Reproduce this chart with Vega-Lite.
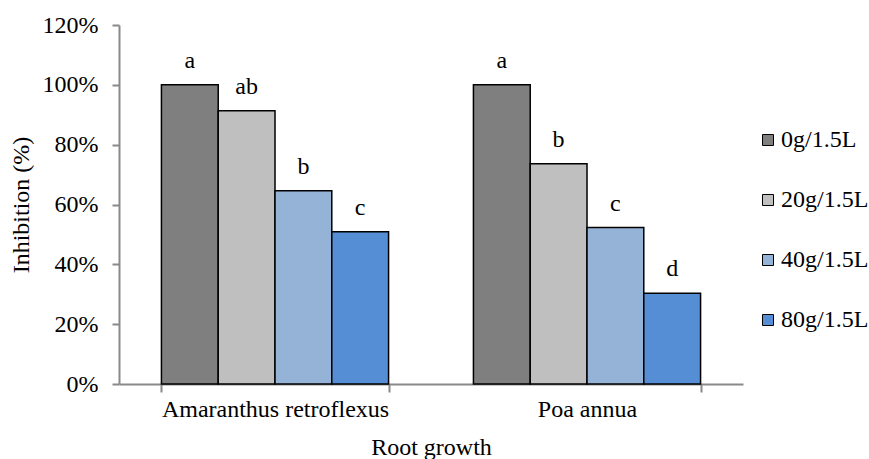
{
  "$schema": "https://vega.github.io/schema/vega-lite/v6.json",
  "width": 624,
  "height": 359,
  "autosize": {"type": "none"},
  "padding": {"left": 119, "top": 25, "right": 126, "bottom": 75},
  "background": "white",
  "config": {
    "font": "Liberation Serif",
    "view": {"stroke": null},
    "axis": {"labelFont": "Liberation Serif", "titleFont": "Liberation Serif"},
    "legend": {"labelFont": "Liberation Serif"}
  },
  "data": {
    "values": [
      {"species": "Amaranthus retroflexus", "conc": "0g/1.5L", "value": 1.0, "letter": "a"},
      {"species": "Amaranthus retroflexus", "conc": "20g/1.5L", "value": 0.913, "letter": "ab"},
      {"species": "Amaranthus retroflexus", "conc": "40g/1.5L", "value": 0.646, "letter": "b"},
      {"species": "Amaranthus retroflexus", "conc": "80g/1.5L", "value": 0.509, "letter": "c"},
      {"species": "Poa annua", "conc": "0g/1.5L", "value": 1.0, "letter": "a"},
      {"species": "Poa annua", "conc": "20g/1.5L", "value": 0.736, "letter": "b"},
      {"species": "Poa annua", "conc": "40g/1.5L", "value": 0.523, "letter": "c"},
      {"species": "Poa annua", "conc": "80g/1.5L", "value": 0.303, "letter": "d"}
    ]
  },
  "encoding": {
    "x": {
      "field": "species",
      "type": "nominal",
      "sort": ["Amaranthus retroflexus", "Poa annua"],
      "scale": {"paddingInner": 0.272, "paddingOuter": 0.136},
      "axis": {
        "title": "Root growth",
        "labelAngle": 0,
        "labelLimit": 400,
        "tickBand": "extent",
        "domainColor": "#898989",
        "tickColor": "#898989",
        "domainWidth": 2,
        "tickWidth": 2,
        "tickSize": 8,
        "labelFontSize": 24,
        "labelColor": "black",
        "labelPadding": 5,
        "titleFontSize": 24,
        "titleFontWeight": "normal",
        "titleColor": "black",
        "titlePadding": 14
      }
    },
    "xOffset": {
      "field": "conc",
      "type": "nominal",
      "sort": ["0g/1.5L", "20g/1.5L", "40g/1.5L", "80g/1.5L"],
      "scale": {"paddingInner": 0, "paddingOuter": 0}
    },
    "y": {
      "field": "value",
      "type": "quantitative",
      "scale": {"domain": [0, 1.2], "nice": false},
      "axis": {
        "title": "Inhibition (%)",
        "format": ".0%",
        "values": [0, 0.2, 0.4, 0.6, 0.8, 1.0, 1.2],
        "grid": false,
        "domainColor": "#898989",
        "tickColor": "#898989",
        "domainWidth": 2,
        "tickWidth": 2,
        "tickSize": 7,
        "labelFontSize": 24,
        "labelColor": "black",
        "labelPadding": 14,
        "titleFontSize": 24,
        "titleFontWeight": "normal",
        "titleColor": "black",
        "titlePadding": 9
      }
    }
  },
  "layer": [
    {
      "mark": {"type": "bar", "stroke": "black", "strokeWidth": 1.5},
      "encoding": {
        "color": {
          "field": "conc",
          "type": "nominal",
          "sort": ["0g/1.5L", "20g/1.5L", "40g/1.5L", "80g/1.5L"],
          "scale": {
            "domain": ["0g/1.5L", "20g/1.5L", "40g/1.5L", "80g/1.5L"],
            "range": ["#7F7F7F", "#BFBFBF", "#95B3D7", "#558ED5"]
          },
          "legend": {
            "title": null,
            "orient": "none",
            "legendX": 637,
            "legendY": 103,
            "padding": 0,
            "symbolType": "square",
            "symbolSize": 121,
            "symbolStrokeColor": "black",
            "symbolStrokeWidth": 1,
            "symbolOpacity": 1,
            "labelFontSize": 24,
            "labelColor": "black",
            "labelOffset": 1,
            "rowPadding": 36
          }
        }
      }
    },
    {
      "mark": {"type": "text", "dy": -17, "baseline": "alphabetic", "fontSize": 24, "color": "black"},
      "encoding": {"text": {"field": "letter"}}
    }
  ]
}
